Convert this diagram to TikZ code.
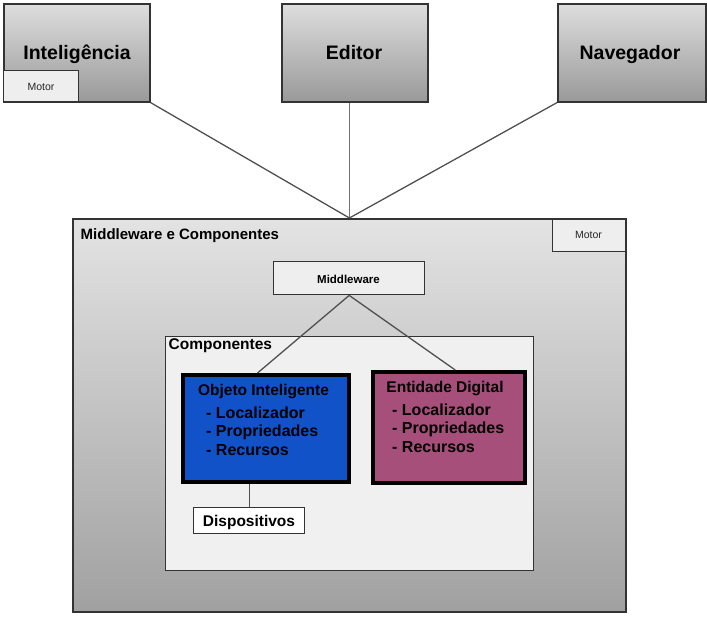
\documentclass[tikz,border=0pt]{standalone}
\usepackage{fontspec}
\setmainfont{Liberation Sans}
\usetikzlibrary{calc}
\definecolor{edge}{HTML}{333333}
\definecolor{conn}{HTML}{505050}
\definecolor{lightbox}{HTML}{EEEEEE}
\definecolor{objblue}{HTML}{1152C9}
\definecolor{entpink}{HTML}{A64F7A}
\begin{document}
\begin{tikzpicture}[x=1pt,y=-1pt,
  topbox/.style={draw=edge, line width=1.6pt, top color=black!13, bottom color=black!40, anchor=north west, inner sep=0pt},
  bigbox/.style={draw=edge, line width=1.8pt, top color=black!11, bottom color=black!37, anchor=north west, inner sep=0pt},
  plainbox/.style={draw=edge, line width=1.4pt, fill=lightbox, anchor=north west, inner sep=0pt},
  itembox/.style={draw=black, line width=4pt, anchor=north west, inner sep=0pt},
  conn/.style={draw=conn, line width=1.3pt},
  toplabel/.style={font=\bfseries\fontsize{19.5}{22}\selectfont, anchor=base, inner sep=0pt},
  motorlabel/.style={font=\fontsize{10.5}{12}\selectfont, anchor=base, inner sep=0pt, text=black!85},
  itemlabel/.style={font=\bfseries\fontsize{16}{18}\selectfont, anchor=base west, inner sep=0pt},
  titlelabel/.style={font=\bfseries\fontsize{15.5}{18}\selectfont, anchor=base, inner sep=0pt}
]
\useasboundingbox (0,0) rectangle (707,616);
% top boxes
\node[topbox, minimum width=146pt, minimum height=98pt] (intel) at (3,3) {};
\node[topbox, minimum width=146pt, minimum height=98pt] (editor) at (281,3) {};
\node[topbox, minimum width=148pt, minimum height=98pt] (nav) at (557,3) {};
\node[plainbox, minimum width=75pt, minimum height=31pt] (motor1) at (3,70) {};
\node[toplabel] (tintel) at (77,59) {Inteligência};
\node[toplabel] (teditor) at (354,59) {Editor};
\node[toplabel] (tnav) at (630,59) {Navegador};
\node[motorlabel] (tmotor1) at (41,90) {Motor};
% big box
\node[bigbox, minimum width=553pt, minimum height=393pt] (big) at (72,218) {};
\draw[conn] (intel.south east) -- (big.north);
\draw[conn, line width=1pt, draw=black!55] (big.north |- editor.south) -- (big.north);
\draw[conn] (nav.south west) -- (big.north);
\node[plainbox, minimum width=73pt, minimum height=32pt] (motor2) at (552,219) {};
\node[motorlabel] (tmotor2) at (588.5,238) {Motor};
\node[font=\bfseries\fontsize{15}{17}\selectfont, anchor=base west, inner sep=0pt] (tbig) at (80.5,239) {Middleware e Componentes};
\node[plainbox, minimum width=151pt, minimum height=33pt] (mw) at (273,261) {};
\node[font=\bfseries\fontsize{11.5}{13}\selectfont, anchor=base, inner sep=0pt] (tmw) at (348.5,283) {Middleware};
% componentes
\node[plainbox, minimum width=368pt, minimum height=234pt, fill=black!6] (comp) at (165,336) {};
\node[font=\bfseries\fontsize{15.5}{18}\selectfont, anchor=base west, inner sep=0pt] (tcomp) at (168.5,349) {Componentes};
\node[itembox, fill=objblue, minimum width=166pt, minimum height=107pt] (obj) at (181,373) {};
\node[itembox, fill=entpink, minimum width=152pt, minimum height=111pt] (ent) at (371,370) {};
\draw[conn] (mw.south) -- ($(obj.north west)!0.45!(obj.north east)$);
\draw[conn] (mw.south) -- ($(ent.north west)!0.54!(ent.north east)$);
\node[titlelabel] (tobj) at (263.5,395) {Objeto Inteligente};
\node[itemlabel] (o1) at (206,418) {- Localizador};
\node[itemlabel] (o2) at (206,436.5) {- Propriedades};
\node[itemlabel] (o3) at (206,455) {- Recursos};
\node[titlelabel] (tent) at (445,392) {Entidade Digital};
\node[itemlabel] (e1) at (392,415) {- Localizador};
\node[itemlabel] (e2) at (392,433.5) {- Propriedades};
\node[itemlabel] (e3) at (392,452) {- Recursos};
% dispositivos
\node[draw=edge, line width=1.4pt, fill=white, anchor=north west, inner sep=0pt, minimum width=111pt, minimum height=26pt] (disp) at (193,507) {};
\draw[conn] (disp.north) -- (disp.north |- obj.south);
\node[titlelabel] (tdisp) at (249,526) {Dispositivos};
\end{tikzpicture}
\end{document}
